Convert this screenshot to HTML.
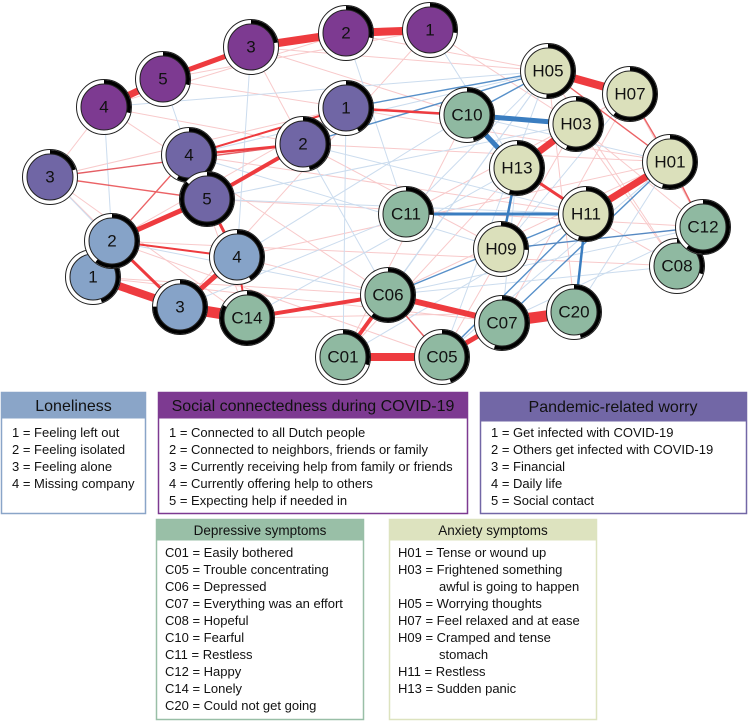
<!DOCTYPE html>
<html><head><meta charset="utf-8"><style>
html,body{margin:0;padding:0;background:#fff;}
svg{display:block;font-family:"Liberation Sans",sans-serif;}
.n text{font-size:17px;text-anchor:middle;dominant-baseline:central;fill:#111;}
.lg text{font-size:13px;fill:#111;}
</style></head><body>
<svg width="749" height="722" viewBox="0 0 749 722" xmlns="http://www.w3.org/2000/svg">
<!-- faint edges -->
<g stroke-width="1" opacity="0.45">
<g stroke="#f08a8c">
<line x1="251" y1="47" x2="467" y2="115"/><line x1="346" y1="33" x2="548" y2="71"/><line x1="163" y1="79" x2="346" y2="108"/>
<line x1="104" y1="107" x2="303" y2="144"/><line x1="104" y1="107" x2="388" y2="295"/><line x1="251" y1="47" x2="303" y2="144"/>
<line x1="50" y1="177" x2="346" y2="108"/><line x1="50" y1="177" x2="104" y2="107"/><line x1="112" y1="241" x2="346" y2="108"/>
<line x1="180" y1="307" x2="430" y2="30"/><line x1="237" y1="257" x2="670" y2="162"/><line x1="247" y1="318" x2="575" y2="312"/>
<line x1="93" y1="277" x2="502" y2="322"/><line x1="112" y1="241" x2="677" y2="266"/><line x1="189" y1="155" x2="586" y2="214"/>
<line x1="207" y1="199" x2="703" y2="227"/><line x1="303" y1="144" x2="502" y2="249"/><line x1="346" y1="108" x2="670" y2="162"/>
<line x1="430" y1="30" x2="576" y2="124"/><line x1="406" y1="214" x2="630" y2="94"/><line x1="343" y1="357" x2="517" y2="168"/>
<line x1="442" y1="357" x2="576" y2="124"/><line x1="388" y1="295" x2="670" y2="162"/><line x1="502" y1="322" x2="630" y2="94"/>
<line x1="575" y1="312" x2="548" y2="71"/><line x1="677" y1="266" x2="548" y2="71"/><line x1="703" y1="227" x2="576" y2="124"/>
<line x1="467" y1="115" x2="343" y2="357"/><line x1="251" y1="47" x2="548" y2="71"/><line x1="163" y1="79" x2="430" y2="30"/>
<line x1="104" y1="107" x2="346" y2="33"/><line x1="50" y1="177" x2="180" y2="307"/><line x1="50" y1="177" x2="247" y2="318"/>
<line x1="112" y1="241" x2="442" y2="357"/><line x1="93" y1="277" x2="388" y2="295"/><line x1="237" y1="257" x2="502" y2="322"/>
<line x1="189" y1="155" x2="247" y2="318"/><line x1="303" y1="144" x2="670" y2="162"/><line x1="586" y1="214" x2="677" y2="266"/>
<line x1="630" y1="94" x2="703" y2="227"/><line x1="576" y1="124" x2="677" y2="266"/><line x1="502" y1="249" x2="703" y2="227"/>
</g>
<g stroke="#8db2da">
<line x1="251" y1="47" x2="237" y2="257"/><line x1="104" y1="107" x2="112" y2="241"/><line x1="104" y1="107" x2="548" y2="71"/>
<line x1="50" y1="177" x2="303" y2="144"/><line x1="346" y1="33" x2="406" y2="214"/><line x1="430" y1="30" x2="517" y2="168"/>
<line x1="346" y1="108" x2="343" y2="357"/><line x1="303" y1="144" x2="388" y2="295"/><line x1="189" y1="155" x2="548" y2="71"/>
<line x1="207" y1="199" x2="576" y2="124"/><line x1="207" y1="199" x2="586" y2="214"/><line x1="237" y1="257" x2="467" y2="115"/>
<line x1="247" y1="318" x2="517" y2="168"/><line x1="343" y1="357" x2="548" y2="71"/><line x1="388" y1="295" x2="703" y2="227"/>
<line x1="388" y1="295" x2="677" y2="266"/><line x1="442" y1="357" x2="670" y2="162"/><line x1="502" y1="322" x2="703" y2="227"/>
<line x1="406" y1="214" x2="548" y2="71"/><line x1="467" y1="115" x2="670" y2="162"/><line x1="502" y1="249" x2="630" y2="94"/>
<line x1="575" y1="312" x2="670" y2="162"/><line x1="112" y1="241" x2="388" y2="295"/><line x1="180" y1="307" x2="406" y2="214"/>
<line x1="163" y1="79" x2="189" y2="155"/><line x1="50" y1="177" x2="112" y2="241"/><line x1="346" y1="108" x2="576" y2="124"/>
<line x1="303" y1="144" x2="586" y2="214"/><line x1="343" y1="357" x2="586" y2="214"/><line x1="442" y1="357" x2="548" y2="71"/>
<line x1="388" y1="295" x2="548" y2="71"/><line x1="502" y1="322" x2="517" y2="168"/><line x1="189" y1="155" x2="502" y2="249"/>
</g>
</g>
<!-- medium edges -->
<g stroke-width="1.4" opacity="0.85">
<g stroke="#e8484c">
<line x1="104" y1="107" x2="163" y2="79"/><line x1="50" y1="177" x2="207" y2="199"/><line x1="189" y1="155" x2="346" y2="108"/>
<line x1="112" y1="241" x2="189" y2="155"/><line x1="548" y1="71" x2="670" y2="162"/><line x1="670" y1="162" x2="703" y2="227"/>
<line x1="388" y1="295" x2="442" y2="357"/><line x1="630" y1="94" x2="670" y2="162"/><line x1="303" y1="144" x2="50" y2="177"/>
</g>
<g stroke="#3a7dc0">
<line x1="346" y1="108" x2="548" y2="71"/><line x1="467" y1="115" x2="548" y2="71"/><line x1="303" y1="144" x2="548" y2="71"/>
<line x1="586" y1="214" x2="670" y2="162"/><line x1="502" y1="249" x2="703" y2="227"/><line x1="388" y1="295" x2="586" y2="214"/>
<line x1="502" y1="322" x2="670" y2="162"/><line x1="442" y1="357" x2="586" y2="214"/>
</g>
</g>
<!-- strong edges -->
<g stroke="#ee3b3f" stroke-linecap="butt">
<line x1="251" y1="47" x2="346" y2="33" stroke-width="8"/>
<line x1="346" y1="33" x2="430" y2="30" stroke-width="8"/>
<line x1="163" y1="79" x2="251" y2="47" stroke-width="5"/>
<line x1="104" y1="107" x2="163" y2="79" stroke-width="7"/>
<line x1="303" y1="144" x2="207" y2="199" stroke-width="4"/>
<line x1="303" y1="144" x2="189" y2="155" stroke-width="2.5"/>
<line x1="346" y1="108" x2="467" y2="115" stroke-width="2.5"/>
<line x1="346" y1="108" x2="189" y2="155" stroke-width="2"/>
<line x1="112" y1="241" x2="207" y2="199" stroke-width="5"/>
<line x1="93" y1="277" x2="180" y2="307" stroke-width="8"/>
<line x1="180" y1="307" x2="247" y2="318" stroke-width="11"/>
<line x1="180" y1="307" x2="237" y2="257" stroke-width="5"/>
<line x1="112" y1="241" x2="180" y2="307" stroke-width="3"/>
<line x1="112" y1="241" x2="237" y2="257" stroke-width="2"/>
<line x1="207" y1="199" x2="237" y2="257" stroke-width="3"/>
<line x1="237" y1="257" x2="247" y2="318" stroke-width="2"/>
<line x1="247" y1="318" x2="388" y2="295" stroke-width="4"/>
<line x1="388" y1="295" x2="502" y2="322" stroke-width="6"/>
<line x1="343" y1="357" x2="442" y2="357" stroke-width="8"/>
<line x1="388" y1="295" x2="343" y2="357" stroke-width="4"/>
<line x1="502" y1="322" x2="575" y2="312" stroke-width="11"/>
<line x1="442" y1="357" x2="502" y2="322" stroke-width="5"/>
<line x1="548" y1="71" x2="630" y2="94" stroke-width="8"/>
<line x1="517" y1="168" x2="576" y2="124" stroke-width="7"/>
<line x1="517" y1="168" x2="586" y2="214" stroke-width="3"/>
<line x1="586" y1="214" x2="670" y2="162" stroke-width="7"/>
</g>
<g stroke="#3a7dc0">
<line x1="467" y1="115" x2="576" y2="124" stroke-width="5"/>
<line x1="467" y1="115" x2="517" y2="168" stroke-width="5"/>
<line x1="406" y1="214" x2="586" y2="214" stroke-width="3"/>
<line x1="517" y1="168" x2="501" y2="249" stroke-width="2.5"/>
<line x1="586" y1="214" x2="575" y2="312" stroke-width="2.5"/>
</g>
<!-- nodes -->
<defs>
<g id="ring"><circle r="27.5" fill="#fff" stroke="#222" stroke-width="1"/></g>
</defs>
<g class="n">
<g transform="translate(251,47)"><use href="#ring"/><circle r="25" fill="none" stroke="#000" stroke-width="4" stroke-dasharray="35 200" transform="rotate(-90)"/><circle r="23" fill="#7d3a91" stroke="#222"/><text>3</text></g>
<g transform="translate(346,33)"><use href="#ring"/><circle r="25" fill="none" stroke="#000" stroke-width="4" stroke-dasharray="44 200" transform="rotate(-90)"/><circle r="23" fill="#7d3a91" stroke="#222"/><text>2</text></g>
<g transform="translate(430,30)"><use href="#ring"/><circle r="25" fill="none" stroke="#000" stroke-width="4" stroke-dasharray="42 200" transform="rotate(-90)"/><circle r="23" fill="#7d3a91" stroke="#222"/><text>1</text></g>
<g transform="translate(163,79)"><use href="#ring"/><circle r="25" fill="none" stroke="#000" stroke-width="4" stroke-dasharray="45 200" transform="rotate(-90)"/><circle r="23" fill="#7d3a91" stroke="#222"/><text>5</text></g>
<g transform="translate(104,107)"><use href="#ring"/><circle r="25" fill="none" stroke="#000" stroke-width="4" stroke-dasharray="45 200" transform="rotate(-90)"/><circle r="23" fill="#7d3a91" stroke="#222"/><text>4</text></g>
<g transform="translate(50,177)"><use href="#ring"/><circle r="25" fill="none" stroke="#000" stroke-width="4" stroke-dasharray="32 200" transform="rotate(-90)"/><circle r="23" fill="#7066a5" stroke="#222"/><text>3</text></g>
<g transform="translate(189,155)"><use href="#ring"/><circle r="25" fill="none" stroke="#000" stroke-width="4" stroke-dasharray="90 200" transform="rotate(-90)"/><circle r="23" fill="#7066a5" stroke="#222"/><text>4</text></g>
<g transform="translate(207,199)"><use href="#ring"/><circle r="25" fill="none" stroke="#000" stroke-width="4" stroke-dasharray="135 200" transform="rotate(-90)"/><circle r="23" fill="#7066a5" stroke="#222"/><text>5</text></g>
<g transform="translate(346,108)"><use href="#ring"/><circle r="25" fill="none" stroke="#000" stroke-width="4" stroke-dasharray="66 200" transform="rotate(-90)"/><circle r="23" fill="#7066a5" stroke="#222"/><text>1</text></g>
<g transform="translate(303,144)"><use href="#ring"/><circle r="25" fill="none" stroke="#000" stroke-width="4" stroke-dasharray="72 200" transform="rotate(-90)"/><circle r="23" fill="#7066a5" stroke="#222"/><text>2</text></g>
<g transform="translate(93,277)"><use href="#ring"/><circle r="25" fill="none" stroke="#000" stroke-width="4" stroke-dasharray="70 200" transform="rotate(-90)"/><circle r="23" fill="#86a3c8" stroke="#222"/><text>1</text></g>
<g transform="translate(112,241)"><use href="#ring"/><circle r="25" fill="none" stroke="#000" stroke-width="4" stroke-dasharray="95 200" transform="rotate(-90)"/><circle r="23" fill="#86a3c8" stroke="#222"/><text>2</text></g>
<g transform="translate(237,257)"><use href="#ring"/><circle r="25" fill="none" stroke="#000" stroke-width="4" stroke-dasharray="65 200" transform="rotate(-90)"/><circle r="23" fill="#86a3c8" stroke="#222"/><text>4</text></g>
<g transform="translate(180,307)"><use href="#ring"/><circle r="25" fill="none" stroke="#000" stroke-width="4" stroke-dasharray="118 200" transform="rotate(-90)"/><circle r="23" fill="#86a3c8" stroke="#222"/><text>3</text></g>
<g transform="translate(247,318)"><use href="#ring"/><circle r="25" fill="none" stroke="#000" stroke-width="4" stroke-dasharray="130 200" transform="rotate(-90)"/><circle r="23" fill="#8fb9a1" stroke="#222"/><text>C14</text></g>
<g transform="translate(343,357)"><use href="#ring"/><circle r="25" fill="none" stroke="#000" stroke-width="4" stroke-dasharray="47 200" transform="rotate(-90)"/><circle r="23" fill="#8fb9a1" stroke="#222"/><text>C01</text></g>
<g transform="translate(442,357)"><use href="#ring"/><circle r="25" fill="none" stroke="#000" stroke-width="4" stroke-dasharray="70 200" transform="rotate(-90)"/><circle r="23" fill="#8fb9a1" stroke="#222"/><text>C05</text></g>
<g transform="translate(388,295)"><use href="#ring"/><circle r="25" fill="none" stroke="#000" stroke-width="4" stroke-dasharray="95 200" transform="rotate(-90)"/><circle r="23" fill="#8fb9a1" stroke="#222"/><text>C06</text></g>
<g transform="translate(502,323)"><use href="#ring"/><circle r="25" fill="none" stroke="#000" stroke-width="4" stroke-dasharray="86 200" transform="rotate(-90)"/><circle r="23" fill="#8fb9a1" stroke="#222"/><text>C07</text></g>
<g transform="translate(574,312)"><use href="#ring"/><circle r="25" fill="none" stroke="#000" stroke-width="4" stroke-dasharray="72 200" transform="rotate(-90)"/><circle r="23" fill="#8fb9a1" stroke="#222"/><text>C20</text></g>
<g transform="translate(677,266)"><use href="#ring"/><circle r="25" fill="none" stroke="#000" stroke-width="4" stroke-dasharray="47 200" transform="rotate(-90)"/><circle r="23" fill="#8fb9a1" stroke="#222"/><text>C08</text></g>
<g transform="translate(703,227)"><use href="#ring"/><circle r="25" fill="none" stroke="#000" stroke-width="4" stroke-dasharray="95 200" transform="rotate(-90)"/><circle r="23" fill="#8fb9a1" stroke="#222"/><text>C12</text></g>
<g transform="translate(406,214)"><use href="#ring"/><circle r="25" fill="none" stroke="#000" stroke-width="4" stroke-dasharray="40 200" transform="rotate(-90)"/><circle r="23" fill="#8fb9a1" stroke="#222"/><text>C11</text></g>
<g transform="translate(467,115)"><use href="#ring"/><circle r="25" fill="none" stroke="#000" stroke-width="4" stroke-dasharray="72 200" transform="rotate(-90)"/><circle r="23" fill="#8fb9a1" stroke="#222"/><text>C10</text></g>
<g transform="translate(548,71)"><use href="#ring"/><circle r="25" fill="none" stroke="#000" stroke-width="4" stroke-dasharray="80 200" transform="rotate(-90)"/><circle r="23" fill="#dbe0bb" stroke="#222"/><text>H05</text></g>
<g transform="translate(630,94)"><use href="#ring"/><circle r="25" fill="none" stroke="#000" stroke-width="4" stroke-dasharray="95 200" transform="rotate(-90)"/><circle r="23" fill="#dbe0bb" stroke="#222"/><text>H07</text></g>
<g transform="translate(517,168)"><use href="#ring"/><circle r="25" fill="none" stroke="#000" stroke-width="4" stroke-dasharray="86 200" transform="rotate(-90)"/><circle r="23" fill="#dbe0bb" stroke="#222"/><text>H13</text></g>
<g transform="translate(576,124)"><use href="#ring"/><circle r="25" fill="none" stroke="#000" stroke-width="4" stroke-dasharray="88 200" transform="rotate(-90)"/><circle r="23" fill="#dbe0bb" stroke="#222"/><text>H03</text></g>
<g transform="translate(670,162)"><use href="#ring"/><circle r="25" fill="none" stroke="#000" stroke-width="4" stroke-dasharray="86 200" transform="rotate(-90)"/><circle r="23" fill="#dbe0bb" stroke="#222"/><text>H01</text></g>
<g transform="translate(586,214)"><use href="#ring"/><circle r="25" fill="none" stroke="#000" stroke-width="4" stroke-dasharray="86 200" transform="rotate(-90)"/><circle r="23" fill="#dbe0bb" stroke="#222"/><text>H11</text></g>
<g transform="translate(501,249)"><use href="#ring"/><circle r="25" fill="none" stroke="#000" stroke-width="4" stroke-dasharray="40 200" transform="rotate(-90)"/><circle r="23" fill="#dbe0bb" stroke="#222"/><text>H09</text></g>
</g>
<!-- legends -->
<g class="lg">
<rect x="1.5" y="392.5" width="144" height="121" fill="#fff" stroke="#8aa5c8" stroke-width="1.5"/>
<rect x="1.5" y="392.5" width="144" height="26" fill="#8aa5c8"/>
<text x="73.5" y="411" text-anchor="middle" style="font-size:16px">Loneliness</text>
<text x="12" y="437">1 = Feeling left out</text>
<text x="12" y="454">2 = Feeling isolated</text>
<text x="12" y="471">3 = Feeling alone</text>
<text x="12" y="488">4 = Missing company</text>

<rect x="158.5" y="392.5" width="309" height="121" fill="#fff" stroke="#7d3a91" stroke-width="1.5"/>
<rect x="158.5" y="392.5" width="309" height="26" fill="#7d3a91"/>
<text x="313" y="411" text-anchor="middle" style="font-size:16px">Social connectedness during COVID-19</text>
<text x="169" y="437">1 = Connected to all Dutch people</text>
<text x="169" y="454">2 = Connected to neighbors, friends or family</text>
<text x="169" y="471">3 = Currently receiving help from family or friends</text>
<text x="169" y="488">4 = Currently offering help to others</text>
<text x="169" y="505">5 = Expecting help if needed in</text>

<rect x="480.5" y="392.5" width="266" height="121" fill="#fff" stroke="#7267a6" stroke-width="1.5"/>
<rect x="480.5" y="392.5" width="266" height="29" fill="#7267a6"/>
<text x="613" y="412" text-anchor="middle" style="font-size:16px">Pandemic-related worry</text>
<text x="491" y="437">1 = Get infected with COVID-19</text>
<text x="491" y="454">2 = Others get infected with COVID-19</text>
<text x="491" y="471">3 = Financial</text>
<text x="491" y="488">4 = Daily life</text>
<text x="491" y="505">5 = Social contact</text>

<rect x="156.5" y="519.5" width="207" height="200" fill="#fff" stroke="#99bfa7" stroke-width="1.5"/>
<rect x="156.5" y="519.5" width="207" height="21" fill="#99bfa7"/>
<text x="260" y="535" text-anchor="middle" style="font-size:13.5px">Depressive symptoms</text>
<text x="165" y="557">C01 = Easily bothered</text>
<text x="165" y="574">C05 = Trouble concentrating</text>
<text x="165" y="591">C06 = Depressed</text>
<text x="165" y="608">C07 = Everything was an effort</text>
<text x="165" y="625">C08 = Hopeful</text>
<text x="165" y="642">C10 = Fearful</text>
<text x="165" y="659">C11 = Restless</text>
<text x="165" y="676">C12 = Happy</text>
<text x="165" y="693">C14 = Lonely</text>
<text x="165" y="710">C20 = Could not get going</text>

<rect x="389.5" y="519.5" width="207" height="200" fill="#fff" stroke="#dde3bf" stroke-width="1.5"/>
<rect x="389.5" y="519.5" width="207" height="21" fill="#dde3bf"/>
<text x="493" y="535" text-anchor="middle" style="font-size:13.5px">Anxiety symptoms</text>
<text x="398" y="557">H01 = Tense or wound up</text>
<text x="398" y="574">H03 = Frightened something</text>
<text x="439" y="591">awful is going to happen</text>
<text x="398" y="608">H05 = Worrying thoughts</text>
<text x="398" y="625">H07 = Feel relaxed and at ease</text>
<text x="398" y="642">H09 = Cramped and tense</text>
<text x="439" y="659">stomach</text>
<text x="398" y="676">H11 = Restless</text>
<text x="398" y="693">H13 = Sudden panic</text>
</g>
</svg>
</body></html>
